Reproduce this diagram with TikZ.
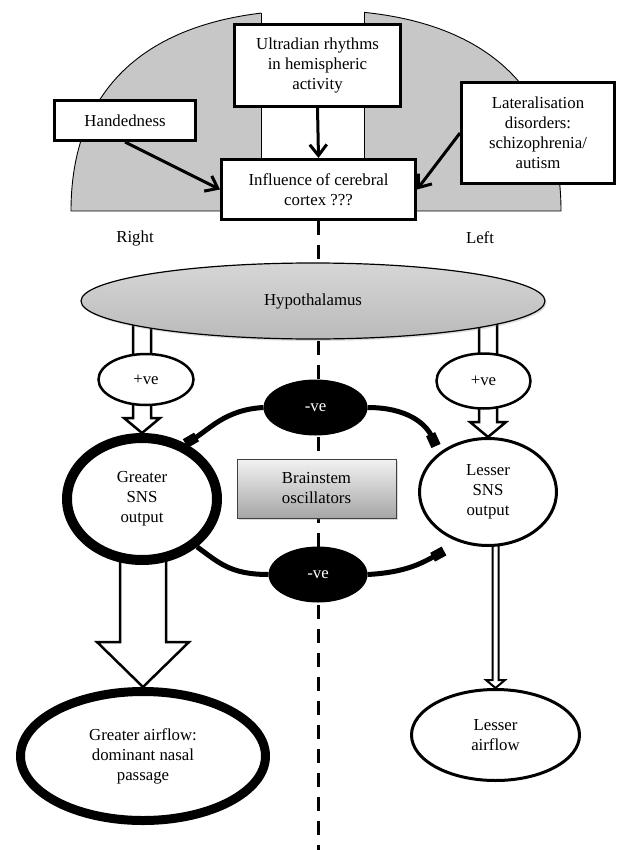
\documentclass[tikz,border=0pt]{standalone}
\usepackage{fontspec}
\setmainfont{Liberation Serif}
\usetikzlibrary{arrows.meta,shapes.geometric,calc,shadows,backgrounds}
\begin{document}
\begin{tikzpicture}[x=1pt,y=-1pt,
  every node/.style={font=\fontsize{16.8}{20}\selectfont, align=center, inner sep=0pt},
  tbox/.style={draw, line width=3pt, fill=white, rectangle},
  oval/.style={draw, ellipse, fill=white},
  negnode/.style={ellipse, fill=black, text=white, line width=1pt, draw},
  lbl/.style={},
  domefill/.style={fill=black!22, draw=black, line width=0.9pt},
  barb/.style={line width=3pt, -{Straight Barb[length=11pt,width=17pt]}},
  hollow/.style={draw, fill=white, line width=2.5pt, line join=miter},
  inhib/.style={line width=5pt, -{Rectangle[length=13pt,width=10pt]}},
  inhibplain/.style={line width=5pt},
  midline/.style={line width=3.5pt, dash pattern=on 14pt off 10pt}
]
\useasboundingbox (0,0) rectangle (617,850);
\def\domepath{(71,211) .. controls (71,80) and (157,10) .. (316,10) .. controls (475,10) and (561,80) .. (561,211) -- cycle}

% hemispheres
\begin{scope}
  \clip (0,0) rectangle (261,230);
  \filldraw[domefill] \domepath;
\end{scope}
\begin{scope}
  \clip (364,0) rectangle (617,230);
  \filldraw[domefill] \domepath;
\end{scope}
\begin{scope}
  \clip \domepath;
  \draw[line width=0.9pt] (261,0) -- (261,211);
  \draw[line width=0.9pt] (364,0) -- (364,211);
\end{scope}

% nodes
\node[tbox, minimum width=166, minimum height=82] (ultra) at (317.5,65.5) {Ultradian rhythms\\in hemispheric\\activity};
\node[tbox, minimum width=141, minimum height=40] (hand) at (125,120.5) {Handedness};
\node[tbox, minimum width=153, minimum height=101] (lat) at (538,133) {Lateralisation\\disorders:\\schizophrenia/\\autism};
\node[tbox, minimum width=194, minimum height=60] (infl) at (318.5,189.5) {Influence of cerebral\\cortex ???};
\node[lbl] (right) at (135,238) {Right};
\node[lbl] (left) at (480,238) {Left};

\node[ellipse, draw, line width=1.2pt, top color=black!16, middle color=black!5, bottom color=black!27,
      drop shadow={opacity=0.25, shadow xshift=1.5pt, shadow yshift=-2pt},
      minimum width=464, minimum height=76] (hypo) at (313,301) {Hypothalamus};

\node[oval, line width=2.5pt, minimum width=95, minimum height=51] (posL) at (146,379.5) {+ve};
\node[oval, line width=2.5pt, minimum width=94, minimum height=55] (posR) at (483.5,381) {+ve};

\node[negnode, minimum width=103, minimum height=55] (neg1) at (315.5,407.5) {-ve};
\node[negnode, minimum width=98, minimum height=55] (neg2) at (318,574.5) {-ve};

\node[oval, line width=10pt, minimum width=150, minimum height=122] (gsns) at (142,499) {Greater\\SNS\\output};
\node[oval, line width=3pt, minimum width=137, minimum height=107] (lsns) at (488,492) {Lesser\\SNS\\output};

\node[rectangle, draw=black!75, line width=1pt, top color=black!5, bottom color=black!35,
      drop shadow={opacity=0.3, shadow xshift=1.5pt, shadow yshift=-2pt},
      minimum width=159, minimum height=59] (brain) at (316.5,488.5) {Brainstem\\oscillators};

\node[oval, line width=9pt, minimum width=245, minimum height=129] (gair) at (143,756) {Greater airflow:\\dominant nasal\\passage};
\node[oval, line width=3pt, minimum width=168, minimum height=91] (lair) at (495.5,735) {Lesser\\airflow};

\coordinate (bot) at (316,852);
\coordinate (e1) at (436,446);
\coordinate (e2) at (444,551);

% background connectors
\begin{scope}[on background layer]
  \draw[midline] (infl.south) -- (infl.south |- bot);
  % hollow arrows
  \draw[hollow] (gsns.north) -- ++(-18,-15) -- ++(9,0) -- ++(0,-100) -- ++(18,0) -- ++(0,100) -- ++(9,0) -- cycle;
  \draw[hollow] (lsns.north) -- ++(-18,-15) -- ++(9,0) -- ++(0,-100) -- ++(18,0) -- ++(0,100) -- ++(9,0) -- cycle;
  \draw[hollow] (gair.north) -- ++(-46,-45) -- ++(23,0) -- ++(0,-82) -- ++(46,0) -- ++(0,82) -- ++(23,0) -- cycle;
  \draw[hollow, line width=2pt] (lair.north) -- ++(-9.5,-8) -- ++(6.5,0) -- ++(0,-138) -- ++(6,0) -- ++(0,138) -- ++(6.5,0) -- cycle;
\end{scope}

% arrows into influence box
\draw[barb] (ultra.south) -- (infl.north);
\draw[barb] (hand.south) -- (infl.west);
\draw[barb] (lat.west) -- (infl.east);

% inhibitory arcs
\draw[inhib] (neg1.west) .. controls +(-38,2) and +(24,-14) .. (gsns.52);
\draw[inhib] (neg1.east) .. controls +(40,0) and +(-10,-22) .. (e1);
\draw[inhibplain] (neg2.west) .. controls +(-38,0) and +(22,16) .. (gsns.-41);
\draw[inhib] (neg2.east) .. controls +(38,-2) and +(-22,12) .. (e2);
\end{tikzpicture}
\end{document}
